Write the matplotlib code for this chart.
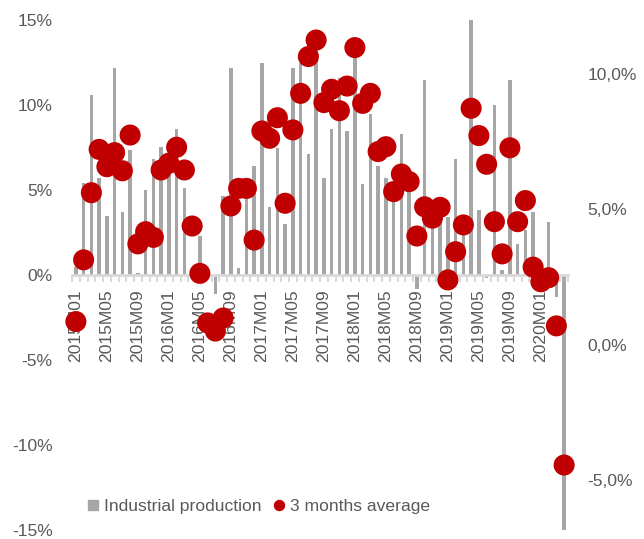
import matplotlib
matplotlib.use("Agg")
import matplotlib.pyplot as plt
from matplotlib.lines import Line2D
from matplotlib.ticker import FixedLocator, FuncFormatter
import numpy as np

plt.rcParams['font.family'] = ['Liberation Sans', 'DejaVu Sans']

# --- data -----------------------------------------------------------------
years = [2015, 2016, 2017, 2018, 2019, 2020]
months = [f"{y}M{m:02d}" for y in years for m in range(1, 13)][:64]  # 2015M01 .. 2020M04

industrial_production = [
    0.5, 5.4, 10.6, 5.7, 3.5, 12.2, 3.7, 7.35, 0.1, 5.0, 6.85, 7.55,   # 2015
    6.5, 8.6, 5.1, 0.0, 2.3, 0.0, -1.1, 4.65, 12.2, 0.4, 5.1, 6.4,     # 2016
    12.5, 4.0, 7.5, 3.0, 12.2, 12.5, 7.1, 13.5, 5.7, 8.6, 11.6, 8.5,   # 2017
    13.0, 5.35, 9.5, 6.4, 5.7, 4.5, 8.3, 5.5, -0.8, 11.5, 3.6, 4.4,    # 2018
    3.4, 6.8, 2.8, 15.0, 3.8, -0.2, 10.0, 0.3, 11.5, 1.85, 2.65, 3.7,  # 2019
    0.5, 3.1, -1.3, -16.0,                                             # 2020
]

three_month_avg = [
    0.85, 3.13, 5.61, 7.21, 6.57, 7.09, 6.42, 7.74, 3.72, 4.17, 3.96, 6.45,   # 2015
    6.70, 7.29, 6.45, 4.38, 2.63, 0.80, 0.50, 0.98, 5.12, 5.77, 5.77, 3.86,   # 2016
    7.89, 7.62, 8.38, 5.22, 7.93, 9.28, 10.64, 11.25, 8.94, 9.43, 8.64, 9.55, # 2017
    10.97, 8.91, 9.28, 7.13, 7.31, 5.65, 6.30, 6.02, 4.01, 5.09, 4.67, 5.07,  # 2018
    2.39, 3.43, 4.42, 8.73, 7.72, 6.66, 4.54, 3.35, 7.27, 4.54, 5.32, 2.86,   # 2019
    2.32, 2.47, 0.69, -4.45,                                                  # 2020
]

left_ticks = [-15, -10, -5, 0, 5, 10, 15]
right_ticks = [-5, 0, 5, 10]

# --- style ----------------------------------------------------------------
BAR_C = '#A6A6A6'
DOT_C = '#C00000'
TXT_C = '#595959'
AX_C = '#D9D9D9'
FS = 12.6

fig = plt.figure(figsize=(6.44, 5.39), dpi=100)
ax = fig.add_axes([72/644, 1-530/539, 496/644, 510/539])
x = np.arange(len(months))

ax.bar(x, industrial_production, width=0.42, color=BAR_C, zorder=2)
ax.set_xlim(-0.5, len(months) - 0.5)
ax.set_ylim(-15, 15)

for s in ['top', 'right', 'left']:
    ax.spines[s].set_visible(False)
ax.spines['bottom'].set_position(('data', 0))
ax.spines['bottom'].set_color(AX_C)
ax.spines['bottom'].set_linewidth(2)
ax.spines['bottom'].set_zorder(3)

ax.xaxis.set_major_locator(FixedLocator(x[::4]))
ax.set_xticklabels([months[i] for i in x[::4]], rotation=90, fontsize=FS, color=TXT_C)
ax.xaxis.set_minor_locator(FixedLocator(np.arange(-0.5, len(months), 1.0)))
ax.tick_params(axis='x', which='major', length=0, pad=10.5)
ax.tick_params(axis='x', which='minor', length=5, width=1.5, color=AX_C, direction='out')

ax.yaxis.set_major_locator(FixedLocator(left_ticks))
ax.yaxis.set_major_formatter(FuncFormatter(lambda v, p: f"{int(v)}%"))
ax.tick_params(axis='y', length=0, pad=14, labelsize=FS, labelcolor=TXT_C)

ax2 = ax.twinx()
ax2.scatter(x, three_month_avg, s=230, color=DOT_C, edgecolors='none', zorder=4, clip_on=False)
ax2.set_ylim(-6.85, 11.99)
for s in ax2.spines.values():
    s.set_visible(False)
ax2.yaxis.set_major_locator(FixedLocator(right_ticks))
ax2.yaxis.set_major_formatter(FuncFormatter(lambda v, p: f"{v:.1f}%".replace('.', ',')))
ax2.tick_params(axis='y', length=0, pad=14, labelsize=FS, labelcolor=TXT_C)

handles = [
    Line2D([], [], linestyle='none', marker='s', markersize=7.2, color=BAR_C),
    Line2D([], [], linestyle='none', marker='o', markersize=7.2, color=DOT_C),
]
fig.legend(handles, ['Industrial production', '3 months average'],
           loc='center left', bbox_to_anchor=(88/644, 1-506/539), ncol=2,
           frameon=False, fontsize=FS, labelcolor=TXT_C,
           handlelength=0.55, handletextpad=0.35, columnspacing=0.75,
           borderpad=0, borderaxespad=0)

fig.savefig('out.png', dpi=100)
